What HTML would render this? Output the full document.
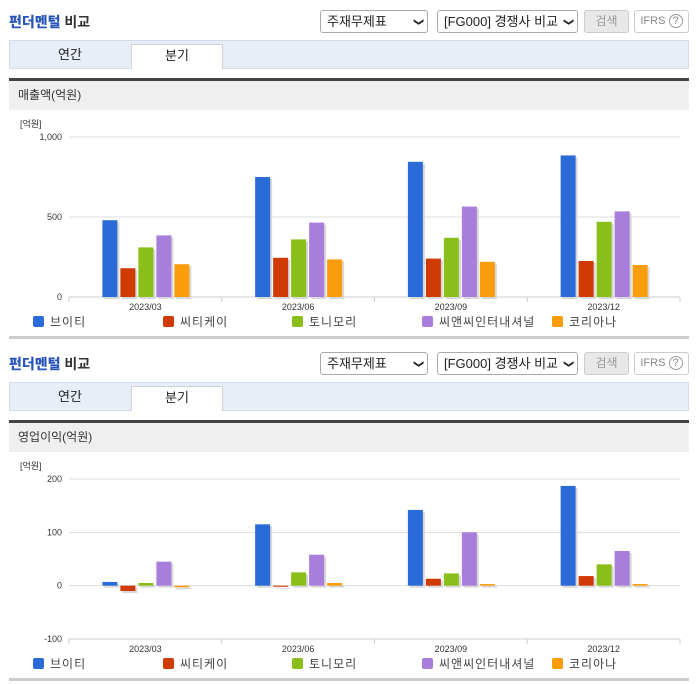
<!DOCTYPE html>
<html><head><meta charset="utf-8">
<style>
body{margin:0;width:696px;height:684px;background:#fff;font-family:"Liberation Sans","Noto Sans CJK KR",sans-serif;position:relative;overflow:hidden}
.abs{position:absolute}
.title{font-size:14px;font-weight:bold;color:#333}
.title b{color:#2a56b8}
.sel{border:1px solid #aaa;border-radius:3px;background:#fff;font-size:13px;color:#222;height:22px;line-height:22px;padding-left:6px;box-sizing:border-box}
.sel span{position:absolute;right:5px;top:0;font-size:10px}
.btn{border:1px solid #ccc;border-radius:3px;background:#e8e8e8;color:#999;font-size:12px;height:22px;line-height:20px;text-align:center;box-sizing:border-box}
.btn2{border:1px solid #ccc;border-radius:3px;background:#fff;color:#888;font-size:11px;height:22px;line-height:20px;text-align:center;box-sizing:border-box}
.tabs{background:#e8eef7;border:1px solid #d5dce8;box-sizing:border-box}
.tab{font-size:13px;color:#222;text-align:center;line-height:29px}
.tabon{background:#fff;border:1px solid #d0d0d0;border-bottom:none;box-sizing:border-box}
.dark{background:#444;height:3px}
.hdr{background:#efefef;font-size:12px;color:#333;line-height:29px;padding-left:9px;box-sizing:border-box}
.sepl{background:#ccc;height:3px}
svg text{font-family:"Liberation Sans","Noto Sans CJK KR",sans-serif}
</style></head><body>
<div id="root"></div>
<script>
const categories=["2023/03","2023/06","2023/09","2023/12"];
const seriesNames=["브이티","씨티케이","토니모리","씨앤씨인터내셔널","코리아나"];
const salesBrv=[480,750,845,885];
const salesCtk=[180,245,240,225];
const salesTony=[310,360,370,470];
const salesCnc=[385,465,565,535];
const salesKor=[205,235,220,200];
const opBrv=[7,115,142,187];
const opCtk=[-10,-2,13,18];
const opTony=[5,25,23,40];
const opCnc=[45,58,100,65];
const opKor=[-3,5,3,3];
const salesTicks=[0,500,1000];
const salesTickLabels=["0","500","1,000"];
const opTicks=[-100,0,100,200];
const opTickLabels=["-100","0","100","200"];
const colors=["#2a6bd8","#d03a05","#8abf1a","#a87ddb","#f99d0d"];

const root=document.getElementById('root');
function div(cls,x,y,w,h,html,name,inter){
  const d=document.createElement('div');
  d.className='abs '+cls;
  d.style.left=x+'px';d.style.top=y+'px';
  if(w!=null)d.style.width=w+'px';
  if(h!=null)d.style.height=h+'px';
  if(html!=null)d.innerHTML=html;
  
  
  root.appendChild(d);return d;
}
function section(oy,hdrText,series,ticks,tickLabels,ymin,ymax,plotTop,plotBot,prefix){
  div('title',9,oy+12,150,20,'<b>펀더멘털</b> 비교',prefix+'section-title',false);
  div('sel',320,oy+10,108,23,'주재무제표<span>&#10095;</span>',prefix+'statement-select',true).querySelector('span').style.transform='rotate(90deg)';
  div('sel',437,oy+10,141,23,'[FG000] 경쟁사 비교<span>&#10095;</span>',prefix+'compare-select',true).querySelector('span').style.transform='rotate(90deg)';
  div('btn',584,oy+10,45,23,'검색',prefix+'search-button',true);
  div('btn2',634,oy+10,55,23,'IFRS <span style="border:1px solid #999;border-radius:50%;padding:0 3px">?</span>',prefix+'ifrs-button',true);
  div('tabs',9,oy+40,680,29,'',prefix+'tab-bar',false);
  div('tab',9,oy+40,122,29,'연간',prefix+'annual-tab',true);
  div('tab tabon',131,oy+44,92,25,'분기',prefix+'quarter-tab',true).style.lineHeight='22px';
  div('dark',9,oy+78,680,null,'',prefix+'divider',false);
  div('hdr',9,oy+81,680,29,hdrText,prefix+'chart-header',false);
  div('sepl',9,oy+336,680,null,'',prefix+'bottom-line',false);
  const NS='http://www.w3.org/2000/svg';
  const svg=document.createElementNS(NS,'svg');
  svg.setAttribute('width',696);svg.setAttribute('height',230);
  svg.style.position='absolute';svg.style.left='0';svg.style.top=(oy+112)+'px';
  
  
  root.appendChild(svg);
  const x0=69,x1=680,cw=(x1-x0)/categories.length;
  const yS=v=>plotTop+(ymax-v)/(ymax-ymin)*(plotBot-plotTop);
  function el(t,a,txt){const e=document.createElementNS(NS,t);for(const k in a)e.setAttribute(k,a[k]);if(txt!=null)e.textContent=txt;svg.appendChild(e);return e;}
  const u=el('text',{x:20,y:15,'font-size':9,fill:'#333'},'[억원]');
  
  
  ticks.forEach((t,i)=>{
    const y=yS(t);
    const g=el('line',{x1:x0,x2:x1,y1:y,y2:y,stroke:'#ddd','stroke-width':1});
    
    
    const l=el('text',{x:62,y:y+3,'font-size':9,fill:'#333','text-anchor':'end'},tickLabels[i]);
    
    
  });
  const axY=plotBot;
  const ax=el('line',{x1:x0,x2:x1,y1:axY,y2:axY,stroke:'#ccc'});
  
  
  for(let i=0;i<=categories.length;i++){
    const tk=el('line',{x1:x0+i*cw,x2:x0+i*cw,y1:axY,y2:axY+5,stroke:'#ccc'});
    
    
  }
  categories.forEach((c,ci)=>{
    const cx=x0+ci*cw+cw/2;
    const l=el('text',{x:cx,y:axY+13,'font-size':9,fill:'#333','text-anchor':'middle'},c);
    
    
    series.forEach((s,si)=>{
      const bx=cx-43+si*18, v=s[ci];
      const y0=yS(0), yv=yS(v);
      const top=Math.min(y0,yv), h=Math.max(Math.abs(y0-yv),1);
      const sh=el('rect',{x:bx+2,y:top+2,width:15,height:h,fill:'#d8d8d8'});
      
      
      const r=el('rect',{x:bx,y:top,width:15,height:h,fill:colors[si]});
      
      
    });
  });
  const lx=[33,163,292,422,552];
  seriesNames.forEach((n,i)=>{
    const ly=209;
    const sq=el('rect',{x:lx[i],y:ly-5,width:11,height:11,rx:2,fill:colors[i]});
    
    
    const t=el('text',{x:lx[i]+17,y:ly+5,'font-size':12,fill:'#444','letter-spacing':'1'},n);
    
    
  });
}
section(0,'매출액(억원)',[salesBrv,salesCtk,salesTony,salesCnc,salesKor],salesTicks,salesTickLabels,0,1000,25,185,'sales-');
section(342,'영업이익(억원)',[opBrv,opCtk,opTony,opCnc,opKor],opTicks,opTickLabels,-100,200,25,185,'op-');
</script>
</body></html>
